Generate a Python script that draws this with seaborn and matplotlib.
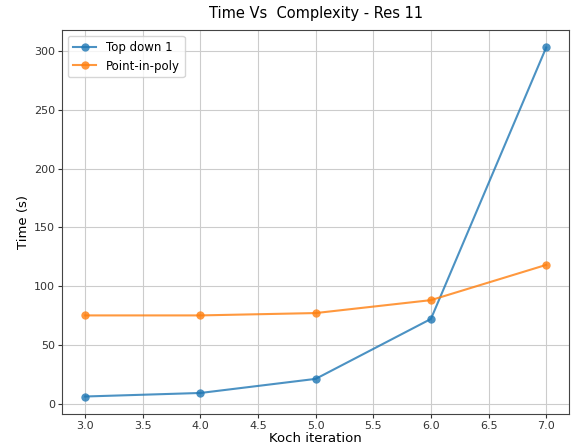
import matplotlib
matplotlib.use("Agg")
import matplotlib.pyplot as plt
import seaborn as sns
import pandas as pd

# data
koch_iter = [3, 4, 5, 6, 7]
top_down = [6, 9, 21, 72, 303]
point_in_poly = [75, 75, 77, 88, 118]

df = pd.DataFrame({
    "Koch iteration": koch_iter * 2,
    "Time (s)": top_down + point_in_poly,
    "method": ["Top down 1"] * 5 + ["Point-in-poly"] * 5,
})

fig, ax = plt.subplots(figsize=(5.75, 4.48), dpi=100)
fig.subplots_adjust(left=0.108, right=0.99, top=0.933, bottom=0.076)

sns.lineplot(data=df, x="Koch iteration", y="Time (s)", hue="method",
             marker="o", markeredgecolor="none", markersize=6,
             palette=["#1f77b4", "#ff7f0e"], alpha=0.8, ax=ax)

ax.grid(True, color="#cccccc", linewidth=0.8)
ax.set_axisbelow(True)
ax.set_title("Time Vs  Complexity - Res 11", fontsize=10.5, pad=9)
ax.set_xlabel("Koch iteration", fontsize=9.5, labelpad=1)
ax.set_ylabel("Time (s)", fontsize=9.5, labelpad=3)
ax.tick_params(labelsize=8, colors="#333333", length=3, pad=2)
for s in ax.spines.values():
    s.set_color("#444444")
ax.legend(title=None, loc="upper left", fontsize=8.5)

fig.savefig("out.png")
